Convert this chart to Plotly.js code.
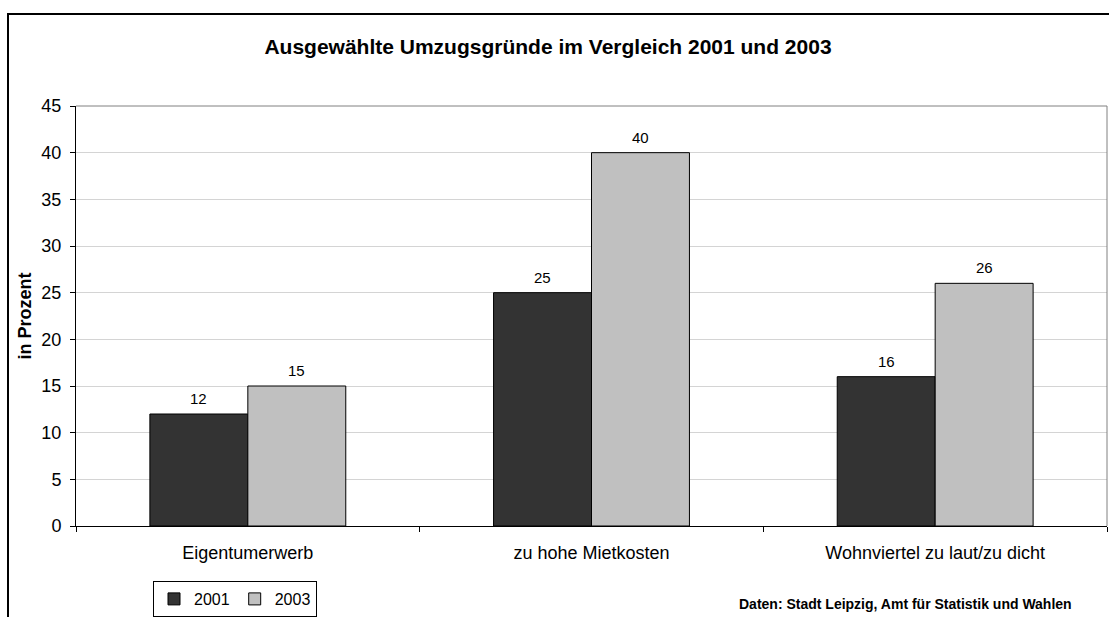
<!DOCTYPE html>
<html>
<head>
<meta charset="utf-8">
<script src="https://cdn.plot.ly/plotly-3.0.1.min.js"></script>
<style>html,body{margin:0;padding:0;background:#fff;}#chart{width:1109px;height:617px;}</style>
</head>
<body>
<div id="chart"></div>
<script>
const categories = ["Eigentumerwerb", "zu hohe Mietkosten", "Wohnviertel zu laut/zu dicht"];
const values2001 = [12, 25, 16];
const values2003 = [15, 40, 26];
const seriesNames = ["2001", "2003"];
const yTicks = [0, 5, 10, 15, 20, 25, 30, 35, 40, 45];

const FONT = "Liberation Sans, Arial, sans-serif";
const bargap = 0.43;
const half = (1 - bargap) / 4;

const traces = [
  {type: "bar", name: seriesNames[0], x: categories, y: values2001,
   marker: {color: "#333333", line: {color: "#000", width: 1}}, hoverinfo: "none"},
  {type: "bar", name: seriesNames[1], x: categories, y: values2003,
   marker: {color: "#c0c0c0", line: {color: "#000", width: 1}}, hoverinfo: "none"}
];

const L = 76, R = 1107, T = 106, B = 526;
const W = R - L, H = B - T;
const px = x => (x - L) / W;
const py = y => (B - y) / H;

const annotations = [];
[values2001, values2003].forEach((vals, s) => {
  vals.forEach((v, i) => {
    annotations.push({x: i + (s === 0 ? -half : half), y: v, xref: "x", yref: "y",
      text: String(v), showarrow: false, yanchor: "bottom", yshift: 5,
      font: {family: FONT, size: 15, color: "#000"}});
  });
});
annotations.push({xref: "paper", yref: "paper", x: px(905), y: py(604),
  xanchor: "center", yanchor: "middle", showarrow: false,
  text: "<b>Daten: Stadt Leipzig, Amt für Statistik und Wahlen</b>",
  font: {family: FONT, size: 14, color: "#000"}});

const layout = {
  width: 1109, height: 617,
  margin: {l: L, r: 1109 - R, t: T, b: 617 - B, autoexpand: false},
  paper_bgcolor: "#fff", plot_bgcolor: "#fff",
  font: {family: FONT, size: 18, color: "#000"},
  title: {text: "<b>Ausgewählte Umzugsgründe im Vergleich 2001 und 2003</b>",
    font: {family: FONT, size: 21, color: "#000"},
    xref: "container", yref: "container", x: 548/1109, y: 1 - 47/617,
    xanchor: "center", yanchor: "middle"},
  barmode: "group", bargap: bargap, bargroupgap: 0,
  xaxis: {type: "category", tickson: "boundaries", ticks: "outside", ticklen: 5,
    tickcolor: "#000", showline: true, linecolor: "#000", linewidth: 1,
    showgrid: false, ticklabelstandoff: 10, automargin: false,
    tickfont: {family: FONT, size: 18, color: "#000"}, fixedrange: true},
  yaxis: {range: [0, 45], tickvals: yTicks, ticks: "outside", ticklen: 5, tickcolor: "#000",
    showline: true, linecolor: "#000", linewidth: 1, showgrid: true, gridcolor: "#d4d4d4",
    zeroline: false, ticklabelstandoff: 5, automargin: false,
    tickfont: {family: FONT, size: 18, color: "#000"},
    title: {text: "<b>in Prozent</b>", font: {family: FONT, size: 18, color: "#000"}, standoff: 5},
    fixedrange: true},
  showlegend: true,
  legend: {orientation: "h", x: px(153), y: py(581), xanchor: "left", yanchor: "top",
    bordercolor: "#000", borderwidth: 1, bgcolor: "#fff",
    font: {family: FONT, size: 16, color: "#000"}, itemwidth: 30, tracegroupgap: 0},
  shapes: [
    {type: "line", xref: "paper", yref: "paper", x0: 0, x1: 1, y0: 1, y1: 1,
     line: {color: "#808080", width: 1}},
    {type: "line", xref: "paper", yref: "paper", x0: 1, x1: 1, y0: 0, y1: 1,
     line: {color: "#808080", width: 1}},
    {type: "rect", xref: "paper", yref: "paper", x0: px(8), x1: px(1115), y0: py(14), y1: py(625),
     line: {color: "#000", width: 2}, fillcolor: "rgba(0,0,0,0)"}
  ],
  annotations: annotations
};

Plotly.newPlot("chart", traces, layout, {displayModeBar: false, staticPlot: true});
</script>
</body>
</html>
